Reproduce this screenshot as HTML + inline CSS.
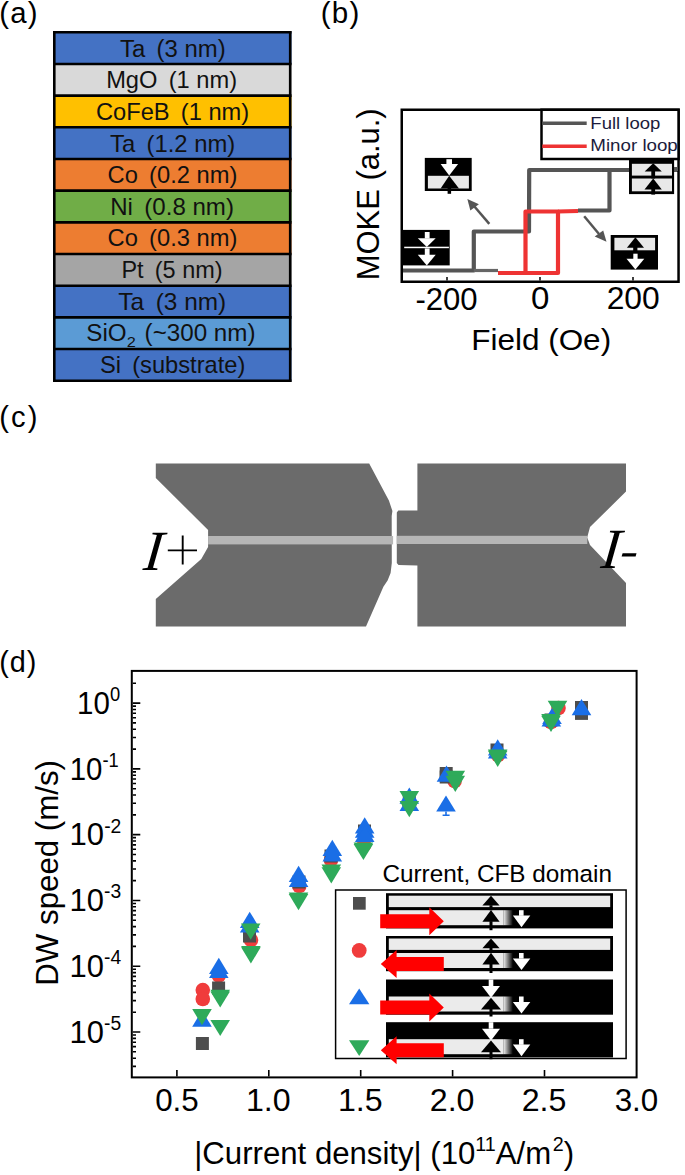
<!DOCTYPE html>
<html><head><meta charset="utf-8"><style>
html,body{margin:0;padding:0;background:#fff;}
svg{display:block;}
text{font-family:"Liberation Sans", sans-serif;}
</style></head><body>
<svg width="685" height="1175" viewBox="0 0 685 1175">
<rect width="685" height="1175" fill="#fff"/>
<rect x="53.0" y="32.30" width="238.5" height="31.67" fill="#4472C4"/>
<rect x="53.0" y="63.97" width="238.5" height="31.67" fill="#D9D9D9"/>
<rect x="53.0" y="95.65" width="238.5" height="31.67" fill="#FFC000"/>
<rect x="53.0" y="127.32" width="238.5" height="31.67" fill="#4472C4"/>
<rect x="53.0" y="158.99" width="238.5" height="31.67" fill="#ED7D31"/>
<rect x="53.0" y="190.66" width="238.5" height="31.67" fill="#70AD47"/>
<rect x="53.0" y="222.34" width="238.5" height="31.67" fill="#ED7D31"/>
<rect x="53.0" y="254.01" width="238.5" height="31.67" fill="#A5A5A5"/>
<rect x="53.0" y="285.68" width="238.5" height="31.67" fill="#4472C4"/>
<rect x="53.0" y="317.35" width="238.5" height="31.67" fill="#5B9BD5"/>
<rect x="53.0" y="349.03" width="238.5" height="31.67" fill="#4472C4"/>
<line x1="53.0" y1="32.30" x2="291.5" y2="32.30" stroke="#000" stroke-width="2.6"/>
<line x1="53.0" y1="63.97" x2="291.5" y2="63.97" stroke="#000" stroke-width="2.6"/>
<line x1="53.0" y1="95.65" x2="291.5" y2="95.65" stroke="#000" stroke-width="2.6"/>
<line x1="53.0" y1="127.32" x2="291.5" y2="127.32" stroke="#000" stroke-width="2.6"/>
<line x1="53.0" y1="158.99" x2="291.5" y2="158.99" stroke="#000" stroke-width="2.6"/>
<line x1="53.0" y1="190.66" x2="291.5" y2="190.66" stroke="#000" stroke-width="2.6"/>
<line x1="53.0" y1="222.34" x2="291.5" y2="222.34" stroke="#000" stroke-width="2.6"/>
<line x1="53.0" y1="254.01" x2="291.5" y2="254.01" stroke="#000" stroke-width="2.6"/>
<line x1="53.0" y1="285.68" x2="291.5" y2="285.68" stroke="#000" stroke-width="2.6"/>
<line x1="53.0" y1="317.35" x2="291.5" y2="317.35" stroke="#000" stroke-width="2.6"/>
<line x1="53.0" y1="349.03" x2="291.5" y2="349.03" stroke="#000" stroke-width="2.6"/>
<line x1="53.0" y1="380.70" x2="291.5" y2="380.70" stroke="#000" stroke-width="2.6"/>
<line x1="54.3" y1="31.0" x2="54.3" y2="382.0" stroke="#000" stroke-width="2.6"/>
<line x1="290.2" y1="31.0" x2="290.2" y2="382.0" stroke="#000" stroke-width="2.6"/>
<polyline points="402.0,270.5 473.8,270.5 473.8,231.5 529.0,231.5 529.2,170.0 678.0,170.0" fill="none" stroke="#555555" stroke-width="4.2" stroke-linejoin="round" />
<polyline points="609.5,170.0 609.5,210.5 578.0,210.5" fill="none" stroke="#555555" stroke-width="4.2" stroke-linejoin="round" />
<polyline points="473.8,270.5 498.0,270.5" fill="none" stroke="#666" stroke-width="3.2" stroke-linejoin="round" />
<polyline points="498.0,273.0 558.0,273.0 558.0,211.5 525.5,211.5 525.5,273.0" fill="none" stroke="#EE3333" stroke-width="4.2" stroke-linejoin="round" />
<polyline points="558.0,211.5 578.0,211.0" fill="none" stroke="#EE3333" stroke-width="4.2" stroke-linejoin="round" />
<rect x="401.75" y="109.75" width="276.79999999999995" height="172.0" fill="none" stroke="#000" stroke-width="2.5"/>
<line x1="447.0" y1="280.5" x2="447.0" y2="277.0" stroke="#000" stroke-width="1.5"/>
<line x1="540.0" y1="280.5" x2="540.0" y2="277.0" stroke="#000" stroke-width="1.5"/>
<line x1="633.0" y1="280.5" x2="633.0" y2="277.0" stroke="#000" stroke-width="1.5"/>
<rect x="541.5" y="109.75" width="137.04999999999995" height="49.25" fill="#fff" stroke="#000" stroke-width="2.5"/>
<line x1="542.3" y1="123.3" x2="586.7" y2="123.3" stroke="#555" stroke-width="3.6"/>
<line x1="542.3" y1="146.3" x2="586.7" y2="146.3" stroke="#EE3333" stroke-width="3.6"/>
<line x1="489.3" y1="223.9" x2="474" y2="206" stroke="#555" stroke-width="2.5"/>
<polygon points="467.4,199.1 470.3,210.6 478.9,204.2" fill="#555"/>
<line x1="584.2" y1="216.2" x2="599" y2="234" stroke="#555" stroke-width="2.5"/>
<polygon points="606.5,241.8 594.7,236.5 603.2,230.6" fill="#555"/>
<rect x="424.8" y="157.9" width="46.9" height="33.1" fill="#000"/>
<rect x="427.9" y="175.8" width="41" height="12.7" fill="#e8e8e8"/>
<polygon points="440.6,188.5 449.2,175.8 459,188.5" fill="#000"/>
<rect x="447.6" y="188" width="3.5" height="5.8" fill="#000"/>
<rect x="446.4" y="159.2" width="5.6" height="5.2" fill="#fff"/>
<polygon points="440.6,164 458.1,164 449.2,175.6" fill="#fff"/>
<rect x="401" y="229.9" width="48.7" height="35.5" fill="#000"/>
<rect x="404.2" y="246.7" width="44.7" height="1.5" fill="#fff"/>
<rect x="424.8" y="232" width="4.8" height="6.5" fill="#fff"/>
<polygon points="417.8,238.2 435.7,238.2 426.8,247" fill="#fff"/>
<rect x="424.8" y="248.4" width="4.8" height="6.6" fill="#fff"/>
<polygon points="417.8,254.8 435.7,254.8 426.8,265.6" fill="#fff"/>
<rect x="629" y="158.5" width="45.1" height="35.6" fill="#000"/>
<rect x="631.9" y="163.8" width="40.1" height="11.8" fill="#e8e8e8"/>
<rect x="631.9" y="178.5" width="40.1" height="12.8" fill="#e8e8e8"/>
<polygon points="644.7,171.4 653.2,163.3 661.8,171.4" fill="#000"/>
<rect x="651.3" y="171" width="3.8" height="7.5" fill="#000"/>
<polygon points="644.5,189.4 653.2,178.5 661.8,189.4" fill="#000"/>
<rect x="651.3" y="189" width="3.8" height="5.6" fill="#000"/>
<line x1="674" y1="169" x2="678" y2="169" stroke="#555" stroke-width="4"/>
<rect x="610.7" y="235" width="47.3" height="34.6" fill="#000"/>
<rect x="614.4" y="237.8" width="40.7" height="12.5" fill="#e8e8e8"/>
<polygon points="626.9,247.7 635.4,237.2 644,247.7" fill="#000"/>
<rect x="633.2" y="247" width="4.2" height="4" fill="#000"/>
<rect x="633.3" y="253.7" width="4.3" height="5.3" fill="#fff"/>
<polygon points="626.5,258.8 644.3,258.8 635.4,269.6" fill="#fff"/>
<polygon points="155.8,463.6 369.2,463.6 388.9,500.5 392.4,511 391.7,516 391.8,563 390.6,573 387.6,580.5 383.4,586.7 366,626.6 155.8,626.6 155.8,599 201.3,559 208.1,546.9 208.1,530 155.8,478" fill="#6b6b6b"/>
<polygon points="417.4,463.6 626,463.6 626,491.6 590,527 587.2,537.4 590,545 626,583 626,626.6 417.4,626.6 417.4,565.6 398.5,565.1 396.8,563 396.8,512.5 398.3,510.6 417.4,510.6" fill="#6b6b6b"/>
<rect x="208.1" y="536" width="185" height="8.4" fill="#b6b6b6"/>
<rect x="396.8" y="535.8" width="190.5" height="8.2" fill="#b6b6b6"/>
<g transform="translate(142.5,569.5) skewX(-6)"><text x="0" y="0" font-size="57" font-style="italic" style="font-family:'Liberation Serif', serif">I</text></g>
<path d="M167.8,550.4H197M182.7,535.5V564.6" stroke="#000" stroke-width="1.9"/>
<g transform="translate(600,567.8) skewX(-6)"><text x="0" y="0" font-size="57" font-style="italic" style="font-family:'Liberation Serif', serif">I</text></g>
<polygon points="622.6,553.2 636.5,553.2 635.6,556.6 621.6,556.6" fill="#000"/>
<path d="M132.8,703.10h7.5 M132.8,749.08h3.2 M132.8,737.49h3.2 M132.8,729.28h3.2 M132.8,722.90h3.2 M132.8,717.69h3.2 M132.8,713.29h3.2 M132.8,709.47h3.2 M132.8,706.11h3.2 M132.8,768.88h7.5 M132.8,814.86h3.2 M132.8,803.27h3.2 M132.8,795.06h3.2 M132.8,788.68h3.2 M132.8,783.47h3.2 M132.8,779.07h3.2 M132.8,775.25h3.2 M132.8,771.89h3.2 M132.8,834.66h7.5 M132.8,880.64h3.2 M132.8,869.05h3.2 M132.8,860.84h3.2 M132.8,854.46h3.2 M132.8,849.25h3.2 M132.8,844.85h3.2 M132.8,841.03h3.2 M132.8,837.67h3.2 M132.8,900.44h7.5 M132.8,946.42h3.2 M132.8,934.83h3.2 M132.8,926.62h3.2 M132.8,920.24h3.2 M132.8,915.03h3.2 M132.8,910.63h3.2 M132.8,906.81h3.2 M132.8,903.45h3.2 M132.8,966.22h7.5 M132.8,1012.20h3.2 M132.8,1000.61h3.2 M132.8,992.40h3.2 M132.8,986.02h3.2 M132.8,980.81h3.2 M132.8,976.41h3.2 M132.8,972.59h3.2 M132.8,969.23h3.2 M132.8,1032.00h7.5 M132.8,1066.39h3.2 M132.8,1058.18h3.2 M132.8,1051.80h3.2 M132.8,1046.59h3.2 M132.8,1042.19h3.2 M132.8,1038.37h3.2 M132.8,1035.01h3.2 M132.8,683.30h3.2 M132.8,1066.39h3.2 M132.8,1058.18h3.2 M132.8,1051.80h3.2 M132.8,1046.59h3.2 M132.8,1042.19h3.2 M132.8,1038.37h3.2 M132.8,1035.01h3.2 M176.90,1076.4v-6.5 M268.80,1076.4v-6.5 M360.70,1076.4v-6.5 M452.60,1076.4v-6.5 M544.50,1076.4v-6.5" stroke="#000" stroke-width="1.6" fill="none"/>
<rect x="131.8" y="670.9" width="504.8" height="406.5000000000001" fill="none" stroke="#000" stroke-width="2.0"/>
<circle cx="202.8" cy="990.1" r="7.3" fill="#F03C3C"/>
<circle cx="202.8" cy="999" r="7.3" fill="#F03C3C"/>
<circle cx="218.8" cy="975.5" r="7.3" fill="#F03C3C"/>
<circle cx="251" cy="940.1" r="7.3" fill="#F03C3C"/>
<circle cx="299.3" cy="886" r="7.3" fill="#F03C3C"/>
<circle cx="331" cy="860" r="7.3" fill="#F03C3C"/>
<circle cx="364" cy="845" r="7.3" fill="#F03C3C"/>
<circle cx="409.3" cy="804" r="7.3" fill="#F03C3C"/>
<circle cx="454.6" cy="781" r="7.3" fill="#F03C3C"/>
<circle cx="498" cy="755" r="7.3" fill="#F03C3C"/>
<circle cx="558.5" cy="708" r="7.3" fill="#F03C3C"/>
<circle cx="551" cy="722" r="7.3" fill="#F03C3C"/>
<rect x="195.9" y="1037.0" width="13" height="13" fill="#4d4d4d"/>
<rect x="212.1" y="981.5" width="13" height="13" fill="#4d4d4d"/>
<rect x="243.0" y="929.5" width="13" height="13" fill="#4d4d4d"/>
<rect x="292.5" y="875.5" width="13" height="13" fill="#4d4d4d"/>
<rect x="324.5" y="849.5" width="13" height="13" fill="#4d4d4d"/>
<rect x="358.0" y="824.5" width="13" height="13" fill="#4d4d4d"/>
<rect x="402.8" y="793.5" width="13" height="13" fill="#4d4d4d"/>
<rect x="439.7" y="767.0" width="13" height="13" fill="#4d4d4d"/>
<rect x="439.7" y="770.5" width="13" height="13" fill="#4d4d4d"/>
<rect x="490.5" y="743.5" width="13" height="13" fill="#4d4d4d"/>
<rect x="575.0" y="701.0" width="13" height="13" fill="#4d4d4d"/>
<rect x="575.0" y="706.9" width="13" height="13" fill="#4d4d4d"/>
<rect x="544.5" y="713.5" width="13" height="13" fill="#4d4d4d"/>
<polygon points="202.0,1010.5 211.8,1026.7 192.2,1026.7" fill="#1A6EE6"/>
<polygon points="218.8,957.8 228.6,974.0 209.0,974.0" fill="#1A6EE6"/>
<polygon points="218.8,961.7 228.6,977.9 209.0,977.9" fill="#1A6EE6"/>
<polygon points="249.7,911.7 259.5,927.9 239.9,927.9" fill="#1A6EE6"/>
<polygon points="249.7,916.4 259.5,932.6 239.9,932.6" fill="#1A6EE6"/>
<polygon points="298.6,865.7 308.4,881.9 288.8,881.9" fill="#1A6EE6"/>
<polygon points="298.6,870.8 308.4,887.0 288.8,887.0" fill="#1A6EE6"/>
<polygon points="332.3,839.8 342.1,856.0 322.5,856.0" fill="#1A6EE6"/>
<polygon points="332.3,845.4 342.1,861.6 322.5,861.6" fill="#1A6EE6"/>
<polygon points="364.7,817.2 374.5,833.4 354.9,833.4" fill="#1A6EE6"/>
<polygon points="364.7,821.5 374.5,837.7 354.9,837.7" fill="#1A6EE6"/>
<polygon points="364.7,825.8 374.5,842.0 354.9,842.0" fill="#1A6EE6"/>
<polygon points="409.3,787.5 419.1,803.7 399.5,803.7" fill="#1A6EE6"/>
<polygon points="409.3,794.9 419.1,811.1 399.5,811.1" fill="#1A6EE6"/>
<polygon points="446.5,765.5 456.3,781.7 436.7,781.7" fill="#1A6EE6"/>
<polygon points="446.0,795.4 455.8,811.6 436.2,811.6" fill="#1A6EE6"/>
<polygon points="497.7,739.2 507.5,755.4 487.9,755.4" fill="#1A6EE6"/>
<polygon points="497.7,742.2 507.5,758.4 487.9,758.4" fill="#1A6EE6"/>
<polygon points="551.3,710.4 561.1,726.6 541.5,726.6" fill="#1A6EE6"/>
<polygon points="552.0,707.9 561.8,724.1 542.2,724.1" fill="#1A6EE6"/>
<polygon points="581.5,699.1 591.3,715.3 571.7,715.3" fill="#1A6EE6"/>
<path d="M446,811.5V815.2M442.6,815.2H449.6" stroke="#1A6EE6" stroke-width="1.6"/>
<polygon points="202.0,1025.3 211.8,1009.1 192.2,1009.1" fill="#2EAA5A"/>
<polygon points="220.2,1005.9 230.0,989.7 210.4,989.7" fill="#2EAA5A"/>
<polygon points="220.2,1007.6 230.0,991.4 210.4,991.4" fill="#2EAA5A"/>
<polygon points="220.2,1036.1 230.0,1019.9 210.4,1019.9" fill="#2EAA5A"/>
<polygon points="250.7,939.7 260.5,923.5 240.9,923.5" fill="#2EAA5A"/>
<polygon points="250.9,962.1 260.7,945.9 241.1,945.9" fill="#2EAA5A"/>
<polygon points="250.9,963.5 260.7,947.3 241.1,947.3" fill="#2EAA5A"/>
<polygon points="298.5,908.8 308.3,892.6 288.7,892.6" fill="#2EAA5A"/>
<polygon points="298.5,910.3 308.3,894.1 288.7,894.1" fill="#2EAA5A"/>
<polygon points="331.3,880.8 341.1,864.6 321.5,864.6" fill="#2EAA5A"/>
<polygon points="331.3,883.5 341.1,867.3 321.5,867.3" fill="#2EAA5A"/>
<polygon points="363.4,858.6 373.2,842.4 353.6,842.4" fill="#2EAA5A"/>
<polygon points="363.4,860.1 373.2,843.9 353.6,843.9" fill="#2EAA5A"/>
<polygon points="409.3,807.2 419.1,791.0 399.5,791.0" fill="#2EAA5A"/>
<polygon points="409.3,817.2 419.1,801.0 399.5,801.0" fill="#2EAA5A"/>
<polygon points="455.3,786.9 465.1,770.7 445.5,770.7" fill="#2EAA5A"/>
<polygon points="455.3,791.9 465.1,775.7 445.5,775.7" fill="#2EAA5A"/>
<polygon points="497.7,765.7 507.5,749.5 487.9,749.5" fill="#2EAA5A"/>
<polygon points="497.7,766.9 507.5,750.7 487.9,750.7" fill="#2EAA5A"/>
<polygon points="557.5,717.0 567.3,700.8 547.7,700.8" fill="#2EAA5A"/>
<polygon points="551.0,730.3 560.8,714.1 541.2,714.1" fill="#2EAA5A"/>
<polygon points="551.0,731.9 560.8,715.7 541.2,715.7" fill="#2EAA5A"/>
<rect x="335.6" y="890" width="290.5" height="168.5" fill="#fff" stroke="#000" stroke-width="1.5"/>
<rect x="353" y="897" width="12.7" height="12.7" fill="#4d4d4d"/>
<circle cx="359.2" cy="950.4" r="7.4" fill="#F03C3C"/>
<polygon points="359.2,988.4 369.4,1004.2 349,1004.2" fill="#1A6EE6"/>
<polygon points="359.2,1056.1 369.4,1040.2 349,1040.2" fill="#2EAA5A"/>
<rect x="386.0" y="893.2" width="227.0" height="35.2" fill="#000"/>
<rect x="388.8" y="895.7" width="221.4" height="11.4" fill="#ebebeb"/>
<linearGradient id="g0" x1="0" x2="1" y1="0" y2="0"><stop offset="0" stop-color="#ebebeb"/><stop offset="1" stop-color="#000"/></linearGradient>
<rect x="388.8" y="910.2" width="114.89999999999999" height="15" fill="#ebebeb"/>
<rect x="503.7" y="910.2" width="9.2" height="15" fill="url(#g0)"/>
<polygon points="491.0,895.7 499.6,905.4000000000001 482.4,905.4000000000001" fill="#000"/>
<rect x="489.5" y="905.2" width="3" height="5" fill="#000"/>
<polygon points="491.0,910.0 499.6,921.7 482.4,921.7" fill="#000"/>
<rect x="489.5" y="921.2" width="3" height="9" fill="#000"/>
<rect x="519" y="910.2" width="4.6" height="5.6" fill="#fff"/>
<polygon points="512.9,915.6 530.3,915.6 521.5,927.3000000000001" fill="#fff"/>
<polygon points="380.2,914.2 429.3,914.2 429.3,907.2 443.8,921.2 429.3,935.2 429.3,928.2 380.2,928.2" fill="#FF0000"/>
<rect x="386.0" y="936.0" width="227.0" height="35.2" fill="#000"/>
<rect x="388.8" y="938.5" width="221.4" height="11.4" fill="#ebebeb"/>
<linearGradient id="g1" x1="0" x2="1" y1="0" y2="0"><stop offset="0" stop-color="#ebebeb"/><stop offset="1" stop-color="#000"/></linearGradient>
<rect x="388.8" y="953.0" width="114.89999999999999" height="15" fill="#ebebeb"/>
<rect x="503.7" y="953.0" width="9.2" height="15" fill="url(#g1)"/>
<polygon points="491.0,938.5 499.6,948.2 482.4,948.2" fill="#000"/>
<rect x="489.5" y="948.0" width="3" height="5" fill="#000"/>
<polygon points="491.0,952.8 499.6,964.5 482.4,964.5" fill="#000"/>
<rect x="489.5" y="964.0" width="3" height="9" fill="#000"/>
<rect x="519" y="953.0" width="4.6" height="5.6" fill="#fff"/>
<polygon points="512.9,958.4 530.3,958.4 521.5,970.1" fill="#fff"/>
<polygon points="443.8,957.0 396.6,957.0 396.6,950.0 380.8,964.0 396.6,978.0 396.6,971.0 443.8,971.0" fill="#FF0000"/>
<rect x="386.0" y="979.5" width="227.0" height="35.2" fill="#000"/>
<linearGradient id="g2" x1="0" x2="1" y1="0" y2="0"><stop offset="0" stop-color="#ebebeb"/><stop offset="1" stop-color="#000"/></linearGradient>
<rect x="388.8" y="996.5" width="114.89999999999999" height="15" fill="#ebebeb"/>
<rect x="503.7" y="996.5" width="9.2" height="15" fill="url(#g2)"/>
<rect x="488.7" y="979.5" width="4.6" height="6.5" fill="#fff"/>
<polygon points="482.0,986.0 500.0,986.0 491.0,997.7" fill="#fff"/>
<polygon points="491.0,997.7 501.0,1009.5 481.0,1009.5" fill="#000"/>
<rect x="489.5" y="1008.5" width="3" height="8" fill="#000"/>
<rect x="519" y="996.5" width="4.6" height="5.6" fill="#fff"/>
<polygon points="512.9,1001.9 530.3,1001.9 521.5,1013.6" fill="#fff"/>
<polygon points="380.2,1000.5 429.3,1000.5 429.3,993.5 443.8,1007.5 429.3,1021.5 429.3,1014.5 380.2,1014.5" fill="#FF0000"/>
<rect x="386.0" y="1022.2" width="227.0" height="35.2" fill="#000"/>
<linearGradient id="g3" x1="0" x2="1" y1="0" y2="0"><stop offset="0" stop-color="#ebebeb"/><stop offset="1" stop-color="#000"/></linearGradient>
<rect x="388.8" y="1039.2" width="114.89999999999999" height="15" fill="#ebebeb"/>
<rect x="503.7" y="1039.2" width="9.2" height="15" fill="url(#g3)"/>
<rect x="488.7" y="1022.2" width="4.6" height="6.5" fill="#fff"/>
<polygon points="482.0,1028.7 500.0,1028.7 491.0,1040.4" fill="#fff"/>
<polygon points="491.0,1040.4 501.0,1052.2 481.0,1052.2" fill="#000"/>
<rect x="489.5" y="1051.2" width="3" height="8" fill="#000"/>
<rect x="519" y="1039.2" width="4.6" height="5.6" fill="#fff"/>
<polygon points="512.9,1044.6000000000001 530.3,1044.6000000000001 521.5,1056.3" fill="#fff"/>
<polygon points="443.8,1043.2 396.6,1043.2 396.6,1036.2 380.8,1050.2 396.6,1064.2 396.6,1057.2 443.8,1057.2" fill="#FF0000"/>
<g transform="translate(-0.82,22.60) scale(1.0118,1.0000)"><text x="0" y="0" font-size="29" fill="#000" style="font-family:'Liberation Sans', sans-serif" letter-spacing="1.2" xml:space="preserve">(a)</text></g>
<g transform="translate(320.76,22.50) scale(1.0206,1.0000)"><text x="0" y="0" font-size="29" fill="#000" style="font-family:'Liberation Sans', sans-serif" letter-spacing="1.2" xml:space="preserve">(b)</text></g>
<g transform="translate(-0.71,426.50) scale(1.0059,1.0000)"><text x="0" y="0" font-size="29" fill="#000" style="font-family:'Liberation Sans', sans-serif" letter-spacing="2.1" xml:space="preserve">(c)</text></g>
<g transform="translate(-0.79,671.50) scale(0.9941,1.0000)"><text x="0" y="0" font-size="29" fill="#000" style="font-family:'Liberation Sans', sans-serif" letter-spacing="1.0" xml:space="preserve">(d)</text></g>
<g transform="translate(119.96,56.60) scale(1.0404,1.0000)"><text x="0" y="0" font-size="23" fill="#111" style="font-family:'Liberation Sans', sans-serif"  xml:space="preserve">Ta <tspan dx="4.5">(3 nm)</tspan></text></g>
<g transform="translate(106.14,88.24) scale(1.0298,1.0000)"><text x="0" y="0" font-size="23" fill="#111" style="font-family:'Liberation Sans', sans-serif"  xml:space="preserve">MgO <tspan dx="4.5">(1 nm)</tspan></text></g>
<g transform="translate(95.97,119.88) scale(1.0293,1.0000)"><text x="0" y="0" font-size="23" fill="#111" style="font-family:'Liberation Sans', sans-serif"  xml:space="preserve">CoFeB <tspan dx="4.5">(1 nm)</tspan></text></g>
<g transform="translate(110.06,151.52) scale(1.0370,1.0000)"><text x="0" y="0" font-size="23" fill="#111" style="font-family:'Liberation Sans', sans-serif"  xml:space="preserve">Ta <tspan dx="4.5">(1.2 nm)</tspan></text></g>
<g transform="translate(107.57,183.16) scale(1.0306,1.0000)"><text x="0" y="0" font-size="23" fill="#111" style="font-family:'Liberation Sans', sans-serif"  xml:space="preserve">Co <tspan dx="4.5">(0.2 nm)</tspan></text></g>
<g transform="translate(110.21,214.80) scale(1.0470,1.0000)"><text x="0" y="0" font-size="23" fill="#111" style="font-family:'Liberation Sans', sans-serif"  xml:space="preserve">Ni <tspan dx="4.5">(0.8 nm)</tspan></text></g>
<g transform="translate(107.57,246.44) scale(1.0306,1.0000)"><text x="0" y="0" font-size="23" fill="#111" style="font-family:'Liberation Sans', sans-serif"  xml:space="preserve">Co <tspan dx="4.5">(0.3 nm)</tspan></text></g>
<g transform="translate(121.46,278.08) scale(1.0208,1.0000)"><text x="0" y="0" font-size="23" fill="#111" style="font-family:'Liberation Sans', sans-serif"  xml:space="preserve">Pt <tspan dx="4.5">(5 nm)</tspan></text></g>
<g transform="translate(118.34,309.72) scale(1.0616,1.0000)"><text x="0" y="0" font-size="23" fill="#111" style="font-family:'Liberation Sans', sans-serif"  xml:space="preserve">Ta <tspan dx="4.5">(3 nm)</tspan></text></g>
<g transform="translate(86.35,341.36) scale(1.0522,1.0000)"><text x="0" y="0" font-size="23" fill="#111" style="font-family:'Liberation Sans', sans-serif"  xml:space="preserve">SiO<tspan font-size="15.5" dy="5.5">2</tspan><tspan dy="-5.5"> </tspan><tspan dx="2">(~300 nm)</tspan></text></g>
<g transform="translate(99.97,373.00) scale(1.0302,1.0000)"><text x="0" y="0" font-size="23" fill="#111" style="font-family:'Liberation Sans', sans-serif"  xml:space="preserve">Si <tspan dx="4.5">(substrate)</tspan></text></g>
<g transform="translate(590.36,128.80) scale(1.1367,1.0000)"><text x="0" y="0" font-size="16.3" fill="#1c1c3c" style="font-family:'Liberation Sans', sans-serif"  xml:space="preserve">Full loop</text></g>
<g transform="translate(590.35,151.00) scale(1.1500,1.0000)"><text x="0" y="0" font-size="16.3" fill="#1c1c3c" style="font-family:'Liberation Sans', sans-serif"  xml:space="preserve">Minor loop</text></g>
<g transform="translate(415.40,309.50) scale(1.0033,1.0000)"><text x="0" y="0" font-size="31" fill="#000" style="font-family:'Liberation Sans', sans-serif"  xml:space="preserve">-200</text></g>
<g transform="translate(530.93,309.30) scale(1.0667,1.0000)"><text x="0" y="0" font-size="31" fill="#000" style="font-family:'Liberation Sans', sans-serif"  xml:space="preserve">0</text></g>
<g transform="translate(606.65,309.30) scale(1.0265,1.0000)"><text x="0" y="0" font-size="31" fill="#000" style="font-family:'Liberation Sans', sans-serif"  xml:space="preserve">200</text></g>
<g transform="translate(471.17,350.20) scale(1.0641,1.0000)"><text x="0" y="0" font-size="29.6" fill="#000" style="font-family:'Liberation Sans', sans-serif"  xml:space="preserve">Field (Oe)</text></g>
<g transform="translate(379.00,280.22) rotate(-90) scale(0.9733,1.0000)"><text x="0" y="0" font-size="31.8" fill="#000" style="font-family:'Liberation Sans', sans-serif"  xml:space="preserve">MOKE (a.u.)</text></g>
<g transform="translate(77.10,713.90) scale(0.9512,1.0000)"><text x="0" y="0" font-size="31" fill="#000" style="font-family:'Liberation Sans', sans-serif"  xml:space="preserve">10<tspan font-size="19.3" dy="-12.8">0</tspan></text></g>
<g transform="translate(69.70,779.68) scale(0.9490,1.0000)"><text x="0" y="0" font-size="31" fill="#000" style="font-family:'Liberation Sans', sans-serif"  xml:space="preserve">10<tspan font-size="19.3" dy="-12.8">-1</tspan></text></g>
<g transform="translate(69.60,845.46) scale(1.0020,1.0000)"><text x="0" y="0" font-size="31" fill="#000" style="font-family:'Liberation Sans', sans-serif"  xml:space="preserve">10<tspan font-size="19.3" dy="-12.8">-2</tspan></text></g>
<g transform="translate(69.60,911.24) scale(0.9980,1.0000)"><text x="0" y="0" font-size="31" fill="#000" style="font-family:'Liberation Sans', sans-serif"  xml:space="preserve">10<tspan font-size="19.3" dy="-12.8">-3</tspan></text></g>
<g transform="translate(69.60,977.02) scale(0.9980,1.0000)"><text x="0" y="0" font-size="31" fill="#000" style="font-family:'Liberation Sans', sans-serif"  xml:space="preserve">10<tspan font-size="19.3" dy="-12.8">-4</tspan></text></g>
<g transform="translate(69.60,1042.80) scale(0.9980,1.0000)"><text x="0" y="0" font-size="31" fill="#000" style="font-family:'Liberation Sans', sans-serif"  xml:space="preserve">10<tspan font-size="19.3" dy="-12.8">-5</tspan></text></g>
<g transform="translate(155.14,1110.50) scale(1.0122,1.0000)"><text x="0" y="0" font-size="31" fill="#000" style="font-family:'Liberation Sans', sans-serif"  xml:space="preserve">0.5</text></g>
<g transform="translate(245.98,1110.50) scale(1.0375,1.0000)"><text x="0" y="0" font-size="31" fill="#000" style="font-family:'Liberation Sans', sans-serif"  xml:space="preserve">1.0</text></g>
<g transform="translate(337.88,1110.50) scale(1.0375,1.0000)"><text x="0" y="0" font-size="31" fill="#000" style="font-family:'Liberation Sans', sans-serif"  xml:space="preserve">1.5</text></g>
<g transform="translate(429.78,1110.50) scale(1.0375,1.0000)"><text x="0" y="0" font-size="31" fill="#000" style="font-family:'Liberation Sans', sans-serif"  xml:space="preserve">2.0</text></g>
<g transform="translate(521.67,1110.50) scale(1.0375,1.0000)"><text x="0" y="0" font-size="31" fill="#000" style="font-family:'Liberation Sans', sans-serif"  xml:space="preserve">2.5</text></g>
<g transform="translate(614.64,1110.50) scale(1.0122,1.0000)"><text x="0" y="0" font-size="31" fill="#000" style="font-family:'Liberation Sans', sans-serif"  xml:space="preserve">3.0</text></g>
<g transform="translate(58.20,985.73) rotate(-90) scale(0.9770,1.0000)"><text x="0" y="0" font-size="32" fill="#000" style="font-family:'Liberation Sans', sans-serif"  xml:space="preserve">DW speed (m/s)</text></g>
<g transform="translate(194.26,1163.60) scale(1.0119,1.0000)"><text x="0" y="0" font-size="30.8" fill="#000" style="font-family:'Liberation Sans', sans-serif"  xml:space="preserve">|Current density| (10<tspan font-size="19.5" dy="-13">11</tspan><tspan dy="13">A/m</tspan><tspan font-size="19.5" dy="-13" dx="1.5">2</tspan><tspan dy="13">)</tspan></text></g>
<g transform="translate(382.40,881.70) scale(1.0004,1.0000)"><text x="0" y="0" font-size="24.3" fill="#000" style="font-family:'Liberation Sans', sans-serif"  xml:space="preserve">Current, CFB domain</text></g>
</svg></body></html>
